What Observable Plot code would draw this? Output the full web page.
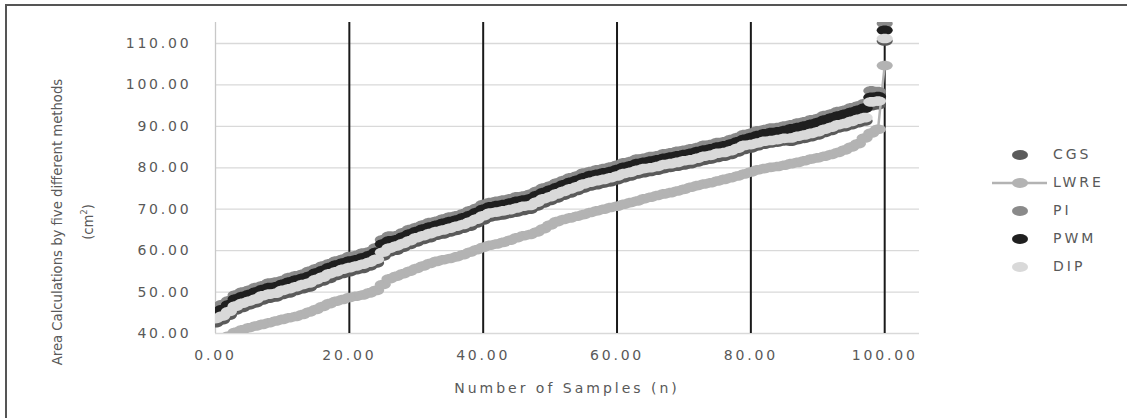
<!DOCTYPE html>
<html><head><meta charset="utf-8">
<script src="https://cdn.jsdelivr.net/npm/d3@7"></script>
<script src="https://cdn.jsdelivr.net/npm/@observablehq/plot@0.6"></script>
<style>
html,body{margin:0;padding:0;background:#fff;overflow:hidden;width:1127px;height:418px}
#wrap{position:relative;width:1127px;height:418px;overflow:hidden}
#frame{position:absolute;left:5px;top:4px;width:1300px;height:600px;border:2px solid #555;box-sizing:border-box}
#chart{position:absolute;left:0;top:0}
.lbl{font-family:"DejaVu Sans",sans-serif;font-size:14px;letter-spacing:3px;color:#595959;position:absolute;white-space:nowrap}
#ytitle{position:absolute;left:-88.5px;top:191px;width:320px;height:62px;line-height:31px;text-align:center;transform:rotate(-90deg);transform-origin:center;font-family:"Liberation Sans Narrow","DejaVu Sans Condensed","Liberation Sans",sans-serif;font-stretch:condensed;font-size:14.7px;color:#595959;white-space:nowrap}
#ytitle sup{font-size:9px;line-height:0;vertical-align:6px}
#legend{position:absolute;left:0;top:0}
</style></head>
<body><div id="wrap"><div id="frame"></div><div id="chart"></div>
<div id="ytitle">Area Calculations by five different methods<br>(cm<sup>2</sup>)</div>
<div class="lbl" id="xtitle" style="left:215px;width:704px;text-align:center;top:380px">Number of Samples (n)</div>
<div id="legend"></div></div>
<script>
const series = ["CGS","LWRE","PI","PWM","DIP"];
const colors = ["#5b5b5b","#b3b3b3","#8a8a8a","#1f1f1f","#d9d9d9"];
const xTicks = [0,20,40,60,80,100];
const yTicks = [40,50,60,70,80,90,100,110];

const CGS = [42.6,43.3,44.4,45.7,46.3,46.9,47.4,48.1,48.5,48.8,49.4,49.8,50.4,50.8,51.2,52.1,52.7,53.3,54.0,54.5,54.9,55.4,55.7,56.3,57.0,58.7,59.7,60.1,60.8,61.5,62.1,62.7,63.1,63.7,64.0,64.5,64.9,65.4,65.9,66.7,67.4,68.1,68.4,68.6,69.0,69.3,69.7,70.0,70.8,71.5,72.1,72.7,73.4,73.9,74.5,75.1,75.6,75.9,76.3,76.6,77.1,77.6,78.0,78.5,78.8,79.1,79.4,79.8,80.1,80.4,80.7,81.0,81.4,81.8,82.1,82.5,82.8,83.2,83.8,84.4,84.8,85.3,85.7,86.0,86.2,86.5,86.4,86.8,87.1,87.5,87.9,88.5,89.0,89.6,89.9,90.4,90.9,91.3,95.0,95.2,110.6];
const LWRE = [38.0,38.8,39.4,40.3,40.9,41.4,41.8,42.2,42.6,43.0,43.4,43.8,44.1,44.6,45.2,45.8,46.5,47.2,47.8,48.2,48.7,49.0,49.3,49.8,50.4,51.8,53.2,53.8,54.4,55.0,55.7,56.3,56.9,57.4,57.8,58.1,58.5,59.0,59.6,60.2,60.8,61.3,61.6,62.0,62.5,63.1,63.6,63.9,64.5,65.3,66.2,67.0,67.5,67.9,68.3,68.7,69.2,69.6,70.0,70.4,70.7,71.2,71.6,72.0,72.5,72.9,73.3,73.7,74.0,74.4,74.8,75.3,75.7,76.1,76.4,76.8,77.2,77.6,78.0,78.5,79.0,79.5,79.8,80.1,80.3,80.6,81.0,81.3,81.7,82.1,82.4,82.8,83.2,83.7,84.3,85.0,85.8,87.2,88.4,89.3,104.7];
const PI = [46.4,47.0,47.9,49.3,50.0,50.4,51.1,51.5,52.2,52.4,52.8,53.5,53.9,54.3,55.0,55.6,56.3,56.8,57.5,57.9,58.6,58.8,59.4,59.7,60.7,62.6,63.5,63.6,64.3,65.1,65.6,66.2,66.8,67.1,67.6,68.1,68.4,68.9,69.6,70.2,71.1,71.6,71.9,72.2,72.5,73.0,73.2,73.6,74.3,75.1,75.6,76.3,76.9,77.6,78.0,78.7,79.1,79.5,79.8,80.2,80.6,81.2,81.5,82.1,82.3,82.7,82.9,83.4,83.6,84.0,84.2,84.6,84.9,85.4,85.6,86.1,86.3,86.8,87.3,88.0,88.3,88.9,89.2,89.6,89.7,90.1,90.4,90.8,91.1,91.6,91.9,92.6,93.0,93.6,93.9,94.5,94.9,95.5,98.6,98.4,114.8];
const PWM = [45.1,45.8,46.9,48.3,48.9,49.4,50.0,50.6,51.1,51.3,51.9,52.4,52.9,53.3,53.8,54.6,55.2,55.9,56.5,57.0,57.5,57.8,58.3,58.8,59.6,61.6,62.4,62.6,63.3,64.0,64.6,65.2,65.7,66.1,66.6,67.0,67.4,67.9,68.5,69.2,70.0,70.6,70.9,71.1,71.5,71.9,72.2,72.5,73.3,74.0,74.6,75.2,75.9,76.5,77.0,77.6,78.1,78.4,78.8,79.1,79.6,80.1,80.5,81.0,81.3,81.6,81.9,82.3,82.6,82.9,83.2,83.5,83.9,84.3,84.6,85.0,85.3,85.7,86.3,86.9,87.3,87.8,88.2,88.5,88.7,89.0,89.4,89.7,90.1,90.5,90.9,91.5,92.0,92.5,92.9,93.4,93.9,94.4,97.0,97.2,113.2];
const DIP = [43.6,44.2,45.3,46.6,47.3,47.8,48.3,49.1,49.5,49.7,50.4,50.8,51.3,51.8,52.2,53.0,53.6,54.4,54.9,55.5,55.9,56.3,56.7,57.2,57.9,59.6,60.6,61.1,61.7,62.4,63.1,63.6,64.1,64.6,65.0,65.4,65.9,66.3,66.9,67.6,68.4,69.1,69.3,69.6,69.9,70.3,70.7,70.9,71.7,72.5,73.0,73.7,74.3,74.9,75.4,76.1,76.5,76.9,77.2,77.6,78.0,78.6,78.9,79.4,79.8,80.0,80.3,80.8,81.0,81.3,81.7,81.9,82.3,82.8,83.0,83.5,83.7,84.1,84.7,85.4,85.6,86.0,86.4,86.6,86.8,87.1,87.2,87.6,87.9,88.3,88.7,89.3,89.8,90.4,90.7,91.2,91.7,92.1,95.9,96.1,111.2];

const values = {CGS, LWRE, PI, PWM, DIP};
const rows = m => values[m].map((v,i) => ({n:i, value:v, method:m}));

const ellipse = {draw(ctx, size){
  const ry = Math.sqrt(size/Math.PI), rx = ry*1.67, k = 0.5523;
  ctx.moveTo(rx,0);
  ctx.bezierCurveTo(rx,k*ry,k*rx,ry,0,ry);
  ctx.bezierCurveTo(-k*rx,ry,-rx,k*ry,-rx,0);
  ctx.bezierCurveTo(-rx,-k*ry,-k*rx,-ry,0,-ry);
  ctx.bezierCurveTo(k*rx,-ry,rx,-k*ry,rx,0);
  ctx.closePath();
}};

const seriesMarks = series.flatMap((m,i) => {
  const marks = [];
  if (m === "LWRE") marks.push(Plot.line(rows(m), {x:"n", y:"value", stroke:colors[i], strokeWidth:2.5, clip:true}));
  marks.push(Plot.dot(rows(m), {x:"n", y:"value", fill:colors[i], r:4.8, symbol:ellipse, clip:true}));
  return marks;
});

const fmt = d3.format(".2f");
const chart = Plot.plot({
  width:1127, height:418,
  marginLeft:215, marginRight:208, marginTop:22, marginBottom:85,
  x:{domain:[0,105.2]},
  y:{domain:[40,115.07]},
  style:"font-family:'DejaVu Sans',sans-serif;font-size:14px;letter-spacing:2.8px;color:#595959;background:transparent;",
  marks:[
    Plot.ruleY(yTicks, {stroke:"#d9d9d9", strokeWidth:1.3}),
    Plot.ruleX([0], {stroke:"#c8c8c8", strokeWidth:1.3}),
    Plot.ruleX(xTicks.slice(1), {stroke:"#1a1a1a", strokeWidth:2}),
    Plot.axisY({ticks:yTicks, tickFormat:fmt, tickSize:0, tickPadding:24, label:null}),
    Plot.axisX({ticks:xTicks, tickFormat:fmt, tickSize:0, tickPadding:17, label:null}),
    ...seriesMarks
  ]
});
document.getElementById("chart").append(chart);

// legend
const legend = d3.select("#legend");
const rowY = [155,183,211,239,267];
series.forEach((m,i) => {
  const svg = legend.append("svg").attr("width",60).attr("height",20)
    .style("position","absolute").style("left","990px").style("top",(rowY[i]-10)+"px");
  if (m === "LWRE") svg.append("line").attr("x1",2).attr("x2",57).attr("y1",10).attr("y2",10).attr("stroke",colors[i]).attr("stroke-width",2.5);
  svg.append("ellipse").attr("cx",30).attr("cy",10).attr("rx",8).attr("ry",5).attr("fill",colors[i]);
  legend.append("div").attr("class","lbl").style("left","1053px").style("top",(rowY[i]-9)+"px").text(m);
});
</script></body></html>
